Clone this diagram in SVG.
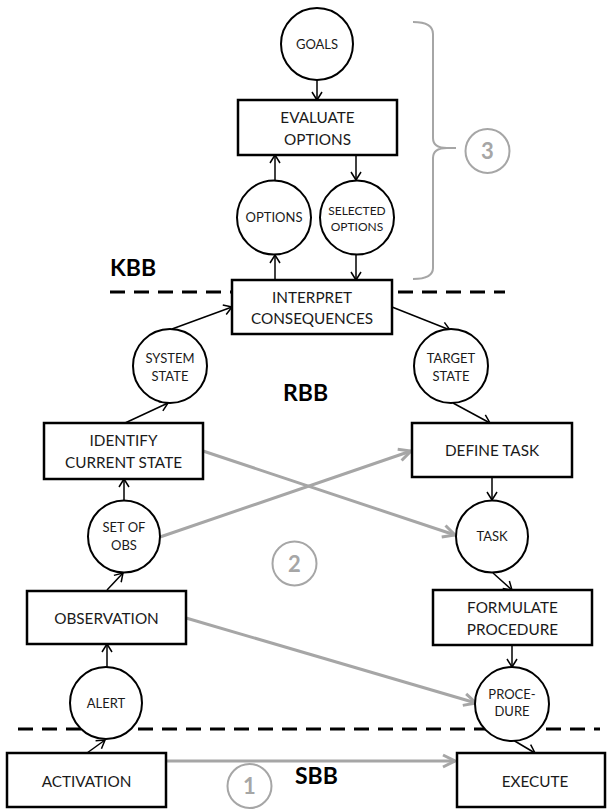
<svg xmlns="http://www.w3.org/2000/svg" width="607" height="809" viewBox="0 0 607 809">
<defs>
<style>
.box{fill:#fff;stroke:#000;stroke-width:2.5}
.node{fill:#fff;stroke:#000;stroke-width:2}
.t{font-family:Lato,"Liberation Sans",sans-serif;font-size:15.3px;fill:#1a1a1a;text-anchor:middle}
.c{font-family:Lato,"Liberation Sans",sans-serif;font-size:13px;fill:#1a1a1a;text-anchor:middle}
.cs{font-family:Lato,"Liberation Sans",sans-serif;font-size:12px;fill:#1a1a1a;text-anchor:middle}
.lvl{font-family:Lato,"Liberation Sans",sans-serif;font-size:23px;font-weight:bold;fill:#000}
.num{fill:#fff;stroke:#a6a6a6;stroke-width:2}
.numt{font-family:Lato,"Liberation Sans",sans-serif;font-size:22px;font-weight:bold;fill:#a6a6a6;text-anchor:middle}
.bl{stroke:#000;stroke-width:1.5;fill:none;marker-end:url(#ab)}
.gl{stroke:#a6a6a6;stroke-width:3;fill:none;marker-end:url(#ag)}
.dash{stroke:#000;stroke-width:3;stroke-dasharray:15 9;fill:none}
</style>
<marker id="ab" viewBox="-10 -7 12 14" refX="0" refY="0" markerWidth="12" markerHeight="14" markerUnits="userSpaceOnUse" orient="auto">
<path d="M-8,-5 L0,0 L-8,5" fill="none" stroke="#000" stroke-width="1.5"/>
</marker>
<marker id="ag" viewBox="-14 -9 16 18" refX="0" refY="0" markerWidth="16" markerHeight="18" markerUnits="userSpaceOnUse" orient="auto">
<path d="M-12,-6 L0,0 L-12,6" fill="none" stroke="#a6a6a6" stroke-width="3"/>
</marker>
</defs>
<rect width="607" height="809" fill="#fff"/>

<g id="levels">
<path class="dash" d="M110,292 H505"/>
<path class="dash" d="M18,729 H600"/>
<text class="lvl" x="110" y="276">KBB</text>
<text class="lvl" x="283" y="401">RBB</text>
<text class="lvl" x="295" y="784">SBB</text>
<path d="M413,22 Q433,22 433,34 L433,138 Q433,148 447,148 L456,148 M447,148 Q433,148 433,158 L433,268 Q433,279 413,279" fill="none" stroke="#a6a6a6" stroke-width="2"/>
</g>

<g id="connectors">
<line class="bl" x1="317" y1="80" x2="317" y2="100"/>
<line class="bl" x1="275" y1="180" x2="275" y2="155"/>
<line class="bl" x1="356" y1="155" x2="356" y2="180"/>
<line class="bl" x1="275" y1="280" x2="275" y2="255"/>
<line class="bl" x1="356" y1="255" x2="356" y2="280"/>
<line class="bl" x1="172" y1="329" x2="232" y2="307"/>
<line class="bl" x1="392" y1="307" x2="450" y2="330"/>
<line class="bl" x1="453" y1="403" x2="490" y2="423"/>
<line class="bl" x1="125" y1="423" x2="168" y2="403"/>
<line class="bl" x1="124" y1="500" x2="124" y2="479"/>
<line class="bl" x1="492" y1="477" x2="492" y2="500"/>
<line class="bl" x1="107" y1="590" x2="123" y2="573"/>
<line class="bl" x1="493" y1="573" x2="512" y2="590"/>
<line class="bl" x1="107" y1="667" x2="107" y2="644"/>
<line class="bl" x1="512" y1="645" x2="512" y2="667"/>
<line class="bl" x1="87" y1="753" x2="105" y2="740"/>
<line class="bl" x1="513" y1="740" x2="535" y2="753"/>
<line class="gl" x1="203" y1="451" x2="455" y2="535"/>
<line class="gl" x1="160" y1="537" x2="411" y2="451"/>
<line class="gl" x1="186" y1="618" x2="476" y2="703"/>
<line class="gl" x1="166" y1="761" x2="455" y2="761"/>
</g>

<g id="goals"><circle class="node" cx="317" cy="44" r="36"/><text class="c" x="317" y="49">GOALS</text></g>
<g id="evaluate-options"><rect class="box" x="238" y="100" width="159" height="55"/><text class="t" x="317.5" y="123">EVALUATE</text><text class="t" x="317.5" y="145">OPTIONS</text></g>
<g id="options"><circle class="node" cx="274" cy="217.5" r="37"/><text class="c" x="274" y="222">OPTIONS</text></g>
<g id="selected-options"><circle class="node" cx="357" cy="217.5" r="37"/><text class="cs" x="357" y="215">SELECTED</text><text class="cs" x="357" y="231">OPTIONS</text></g>
<g id="interpret-consequences"><rect class="box" x="232" y="280" width="160" height="54"/><text class="t" x="312" y="303">INTERPRET</text><text class="t" x="312" y="324">CONSEQUENCES</text></g>
<g id="system-state"><circle class="node" cx="170" cy="366" r="37"/><text class="c" x="170" y="363">SYSTEM</text><text class="c" x="170" y="381">STATE</text></g>
<g id="target-state"><circle class="node" cx="451" cy="366" r="37"/><text class="c" x="451" y="363">TARGET</text><text class="c" x="451" y="381">STATE</text></g>
<g id="identify-current-state"><rect class="box" x="44" y="423" width="159" height="56"/><text class="t" x="123.5" y="446">IDENTIFY</text><text class="t" x="123.5" y="468">CURRENT STATE</text></g>
<g id="define-task"><rect class="box" x="412" y="423" width="160" height="54"/><text class="t" x="492" y="456">DEFINE TASK</text></g>
<g id="set-of-obs"><circle class="node" cx="124" cy="536.5" r="36"/><text class="c" x="124" y="532">SET OF</text><text class="c" x="124" y="550">OBS</text></g>
<g id="task"><circle class="node" cx="492" cy="536.5" r="36"/><text class="c" x="492" y="541">TASK</text></g>
<g id="num2"><circle class="num" cx="294.5" cy="563.5" r="22"/><text class="numt" x="294.5" y="571.5">2</text></g>
<g id="observation"><rect class="box" x="27" y="591" width="159" height="53"/><text class="t" x="106.5" y="624">OBSERVATION</text></g>
<g id="formulate-procedure"><rect class="box" x="433" y="590" width="159" height="55"/><text class="t" x="512.5" y="613">FORMULATE</text><text class="t" x="512.5" y="635">PROCEDURE</text></g>
<g id="alert"><circle class="node" cx="106" cy="703" r="36"/><text class="c" x="106" y="708">ALERT</text></g>
<g id="procedure"><circle class="node" cx="512" cy="704" r="37"/><text class="c" x="512" y="699">PROCE-</text><text class="c" x="512" y="716">DURE</text></g>
<g id="activation"><rect class="box" x="7" y="753" width="159" height="54"/><text class="t" x="86.5" y="787">ACTIVATION</text></g>
<g id="execute"><rect class="box" x="457" y="753" width="148" height="54"/><text class="t" x="535" y="787">EXECUTE</text></g>
<g id="num1"><circle class="num" cx="249.5" cy="786" r="22"/><text class="numt" x="249.5" y="794">1</text></g>
<g id="num3"><circle class="num" cx="487.5" cy="151" r="22"/><text class="numt" x="487.5" y="159">3</text></g>
</svg>
